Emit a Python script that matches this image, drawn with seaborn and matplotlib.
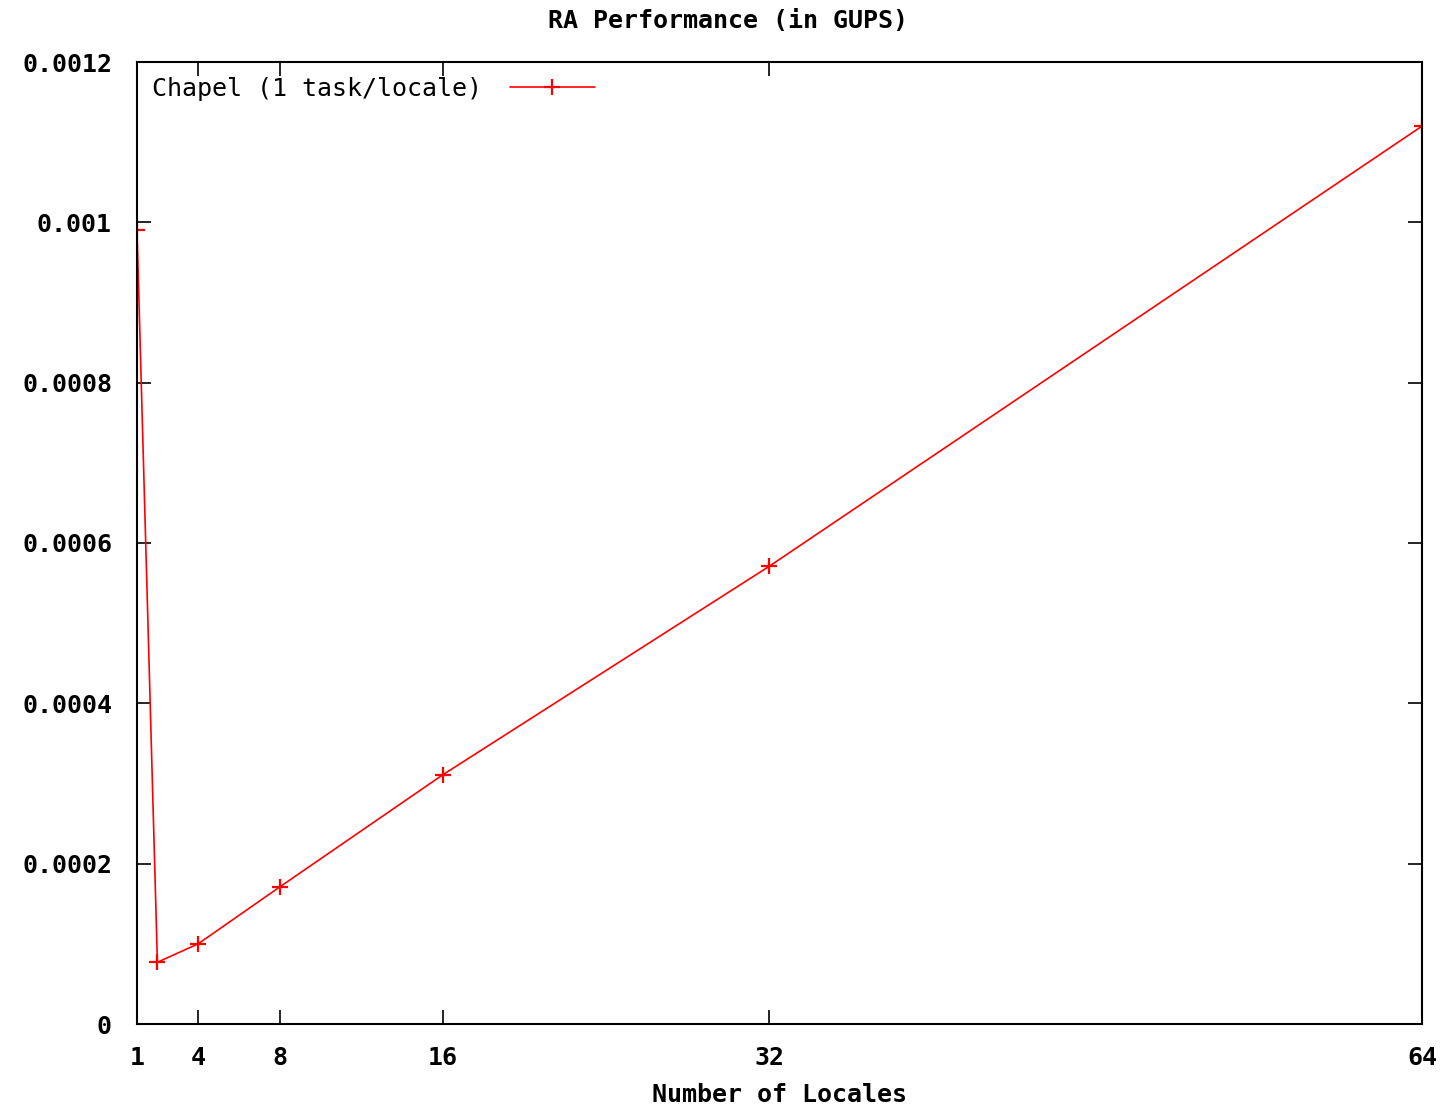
import matplotlib
matplotlib.use("Agg")
import matplotlib.pyplot as plt
import seaborn as sns
import pandas as pd

locales = [1, 2, 4, 8, 16, 32, 64]
gups = [0.00099, 0.000077, 0.0001, 0.000171, 0.000311, 0.000571, 0.00112]
xticks = [1, 4, 8, 16, 32, 64]
yticks = [0, 0.0002, 0.0004, 0.0006, 0.0008, 0.001, 0.0012]
ytick_labels = ["0", "0.0002", "0.0004", "0.0006", "0.0008", "0.001", "0.0012"]
series_name = "Chapel (1 task/locale)"

sns.set_theme(style="white")
plt.rcParams['font.family'] = ['DejaVu Sans Mono', 'DejaVu Sans']
plt.rcParams['text.color'] = 'black'
plt.rcParams['axes.labelcolor'] = 'black'

df = pd.DataFrame({"locales": locales, "gups": gups})

fig = plt.figure(figsize=(14.55, 11.09), dpi=100)
ax = fig.add_axes([137/1455, 1 - 1024/1109, (1422-137)/1455, (1024-62)/1109])

sns.lineplot(data=df, x="locales", y="gups", color="#ff0000", label=series_name,
             marker="+", markersize=12, markeredgewidth=1.6,
             markeredgecolor="#ff0000", linewidth=1.2, ax=ax)

ax.set_xlim(1, 64)
ax.set_ylim(0, 0.0012)
ax.set_xticks(xticks)
ax.set_xticklabels([str(v) for v in xticks], fontsize=18, fontweight="bold")
ax.set_yticks(yticks)
ax.set_yticklabels(ytick_labels, fontsize=18, fontweight="bold")
ax.tick_params(direction="in", length=10, width=1.2, top=True, right=True,
               bottom=True, left=True, colors="black", labelcolor="black")
ax.tick_params(axis="x", pad=16)
ax.tick_params(axis="y", pad=18)
for s in ax.spines.values():
    s.set_color("black")
    s.set_linewidth(1.5)
    s.set_visible(True)

ax.set_xlabel("Number of Locales", fontsize=18, fontweight="bold", labelpad=9, color="black")
ax.set_ylabel("")
fig.suptitle("RA Performance (in GUPS)", fontsize=18, fontweight="bold", y=0.992, color="black")

handles, labels = ax.get_legend_handles_labels()
leg = ax.legend(handles, labels, loc="upper left", frameon=False, markerfirst=False,
                fontsize=18, handlelength=3.4, borderaxespad=0.3, borderpad=0.3,
                handletextpad=1.1)
for t in leg.get_texts():
    t.set_color("black")

fig.savefig("out.png", dpi=100)
